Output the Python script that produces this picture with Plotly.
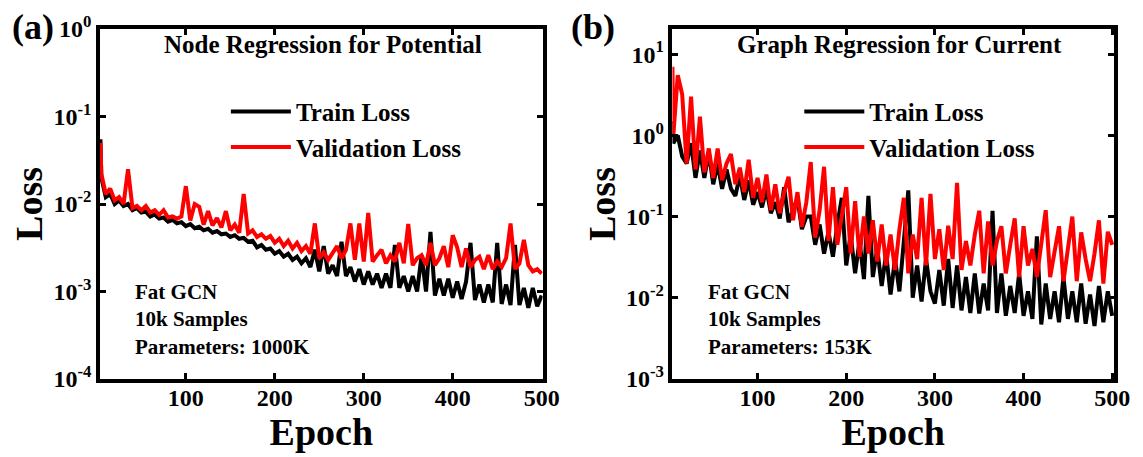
import plotly.graph_objects as go

# ---------------- data ----------------
EPOCHS = [4] + list(range(5, 501, 5))

# (a) Node Regression for Potential
A_TRAIN = [0.055, 0.020, 0.012, 0.013, 0.010, 0.011, 0.0095, 0.010, 0.0085, 0.009,
           0.008, 0.0082, 0.0072, 0.0076, 0.0068, 0.0070, 0.0063, 0.0066, 0.0060, 0.0062,
           0.0056, 0.0059, 0.0053, 0.0055, 0.0050, 0.0052, 0.0047, 0.0049, 0.0045, 0.0046,
           0.0042, 0.0044, 0.0040, 0.0041, 0.0037, 0.0038, 0.0032, 0.0034, 0.0030, 0.0031,
           0.0027, 0.0029, 0.0025, 0.0027, 0.0023, 0.0025, 0.0021, 0.0024, 0.0019, 0.0030,
           0.0017, 0.0033, 0.0016, 0.0020, 0.0015, 0.0037, 0.0015, 0.0019, 0.0013, 0.0018,
           0.0012, 0.0017, 0.0012, 0.0016, 0.0011, 0.0016, 0.0011, 0.0034, 0.0011, 0.0015,
           0.0010, 0.0015, 0.0010, 0.0026, 0.0010, 0.0048, 0.0009, 0.0014, 0.0009, 0.0014,
           0.00085, 0.0013, 0.00082, 0.0013, 0.0036, 0.0008, 0.0012, 0.00075, 0.0012, 0.00075,
           0.0036, 0.00072, 0.0012, 0.0007, 0.0034, 0.0007, 0.0011, 0.00065, 0.0011, 0.00068,
           0.0009]
A_VAL = [0.050, 0.022, 0.013, 0.015, 0.011, 0.012, 0.010, 0.025, 0.009, 0.0095,
         0.0085, 0.0095, 0.008, 0.0085, 0.0075, 0.0085, 0.007, 0.0072, 0.0068, 0.0072,
         0.016, 0.0065, 0.010, 0.0093, 0.0058, 0.0083, 0.0057, 0.0069, 0.0054, 0.0083,
         0.0050, 0.0058, 0.0047, 0.013, 0.0046, 0.0050, 0.0042, 0.0045, 0.0040, 0.0043,
         0.0036, 0.0040, 0.0033, 0.0038, 0.0031, 0.0036, 0.0029, 0.0033, 0.0027, 0.0060,
         0.0024, 0.0028, 0.0023, 0.0028, 0.0033, 0.0024, 0.0030, 0.0060, 0.0023, 0.0060,
         0.0022, 0.0079, 0.0022, 0.0026, 0.0030, 0.0021, 0.0026, 0.0022, 0.0036, 0.0021,
         0.0059, 0.0020, 0.0024, 0.0026, 0.0020, 0.0036, 0.0020, 0.0024, 0.0033, 0.0019,
         0.0044, 0.0032, 0.0019, 0.0031, 0.0019, 0.0023, 0.0025, 0.0018, 0.0026, 0.0018,
         0.0022, 0.0019, 0.0024, 0.0060, 0.0018, 0.0021, 0.0039, 0.0020, 0.0017, 0.0018,
         0.0016]

# (b) Graph Regression for Current
B_TRAIN = [1.5, 0.8, 1.0, 0.55, 0.45, 0.8, 0.30, 0.65, 0.30, 0.62,
           0.25, 0.45, 0.22, 0.38, 0.22, 0.18, 0.32, 0.16, 0.28, 0.14,
           0.20, 0.13, 0.22, 0.11, 0.15, 0.095, 0.23, 0.085, 0.12, 0.17,
           0.07, 0.10, 0.10, 0.045, 0.08, 0.035, 0.065, 0.032, 0.08, 0.17,
           0.025, 0.06, 0.02, 0.05, 0.017, 0.18, 0.018, 0.04, 0.014, 0.035,
           0.011, 0.03, 0.012, 0.05, 0.21, 0.010, 0.025, 0.009, 0.03, 0.012,
           0.0085, 0.022, 0.008, 0.03, 0.0075, 0.025, 0.007, 0.018, 0.0065, 0.02,
           0.0064, 0.015, 0.007, 0.118, 0.0065, 0.02, 0.006, 0.014, 0.0065, 0.02,
           0.006, 0.012, 0.0055, 0.057, 0.0047, 0.015, 0.0055, 0.012, 0.005, 0.018,
           0.0055, 0.012, 0.005, 0.015, 0.0048, 0.011, 0.0045, 0.014, 0.005, 0.012,
           0.006]
B_VAL = [7.0, 1.0, 5.5, 3.2, 0.45, 3.0, 0.38, 1.7, 0.35, 0.69,
         0.30, 0.69, 0.28, 0.45, 0.59, 0.25, 0.40, 0.20, 0.50, 0.17,
         0.30, 0.15, 0.33, 0.12, 0.25, 0.11, 0.20, 0.31, 0.09, 0.20,
         0.075, 0.15, 0.47, 0.055, 0.12, 0.41, 0.05, 0.23, 0.045, 0.10,
         0.23, 0.035, 0.155, 0.032, 0.10, 0.035, 0.09, 0.028, 0.08, 0.025,
         0.06, 0.022, 0.07, 0.17, 0.02, 0.06, 0.03, 0.17, 0.025, 0.19,
         0.03, 0.07, 0.022, 0.077, 0.03, 0.26, 0.022, 0.05, 0.025, 0.06,
         0.118, 0.02, 0.087, 0.025, 0.05, 0.076, 0.02, 0.045, 0.095, 0.018,
         0.076, 0.025, 0.04, 0.018, 0.05, 0.12, 0.018, 0.04, 0.076, 0.016,
         0.04, 0.10, 0.016, 0.064, 0.03, 0.016, 0.035, 0.09, 0.015, 0.065,
         0.045]

X_TICKS = [100, 200, 300, 400, 500]
A_YTICKS = [1e-4, 1e-3, 1e-2, 1e-1, 1]
A_YTEXT = ["10<sup>-4</sup>", "10<sup>-3</sup>", "10<sup>-2</sup>", "10<sup>-1</sup>", "10<sup>0</sup>"]
B_YTICKS = [1e-3, 1e-2, 1e-1, 1, 10]
B_YTEXT = ["10<sup>-3</sup>", "10<sup>-2</sup>", "10<sup>-1</sup>", "10<sup>0</sup>", "10<sup>1</sup>"]

FONT = "Liberation Serif"
W, H = 1143, 457
ML, MR, MT, MB = 100, 28, 22, 78
PW = W - ML - MR
PH = H - MT - MB


def px(x):
    return (x - ML) / PW


def py(y):
    return (H - MB - y) / PH


fig = go.Figure()

for xa, ya, tr, va, lg in [("x", "y", A_TRAIN, A_VAL, "legend"),
                           ("x2", "y2", B_TRAIN, B_VAL, "legend2")]:
    fig.add_trace(go.Scatter(x=EPOCHS, y=tr, mode="lines", name="Train Loss",
                             line=dict(color="black", width=4),
                             xaxis=xa, yaxis=ya, legend=lg))
    fig.add_trace(go.Scatter(x=EPOCHS, y=va, mode="lines", name="Validation Loss",
                             line=dict(color="#ff0000", width=4),
                             xaxis=xa, yaxis=ya, legend=lg))

axis_common = dict(showline=True, linecolor="black", linewidth=3.5, mirror="ticks",
                   ticks="inside", ticklen=6, tickwidth=2.5, tickcolor="black",
                   showgrid=False, zeroline=False,
                   tickfont=dict(family=FONT, size=24, color="black", weight="bold"))

xtitle = dict(text="Epoch", font=dict(family=FONT, size=38, color="black", weight="bold"),
              standoff=0)
ytitle = dict(text="Loss", font=dict(family=FONT, size=38, color="black", weight="bold"),
              standoff=0)

left_dom = [0, px(543)]
right_dom = [px(673), 1]

fig.update_layout(
    width=W, height=H,
    margin=dict(l=ML, r=MR, t=MT, b=MB),
    paper_bgcolor="white", plot_bgcolor="white",
    font=dict(family=FONT, color="black", weight="bold"),
    xaxis=dict(domain=left_dom, range=[3.5, 501], tickvals=X_TICKS, anchor="y",
               title=xtitle, ticklabelstandoff=-6, **axis_common),
    yaxis=dict(domain=[0, 1], type="log", range=[-4, 0], tickvals=A_YTICKS,
               ticktext=A_YTEXT, anchor="x", title=ytitle, **axis_common),
    xaxis2=dict(domain=right_dom, range=[4, 502], tickvals=X_TICKS, anchor="y2",
                title=xtitle, ticklabelstandoff=-6, **axis_common),
    yaxis2=dict(domain=[0, 1], type="log", range=[-3, 1.31], tickvals=B_YTICKS,
                ticktext=B_YTEXT, anchor="x2", title=ytitle, **axis_common),
    legend=dict(x=px(226), y=py(83), xanchor="left", yanchor="top", itemwidth=60,
                bgcolor="rgba(0,0,0,0)", tracegroupgap=0,
                font=dict(family=FONT, size=25, color="black", weight="bold")),
    legend2=dict(x=px(800), y=py(83), xanchor="left", yanchor="top", itemwidth=60,
                 bgcolor="rgba(0,0,0,0)", tracegroupgap=0,
                 font=dict(family=FONT, size=25, color="black", weight="bold")),
    showlegend=True,
)

ann_font = dict(family=FONT, size=25, color="black", weight="bold")
info_font = dict(family=FONT, size=21, color="black", weight="bold")
label_font = dict(family=FONT, size=36, color="black", weight="bold")

fig.add_annotation(x=px(323), y=py(38), xref="paper", yref="paper", showarrow=False,
                   text="Node Regression for Potential", font=ann_font,
                   xanchor="center", yanchor="middle")
fig.add_annotation(x=px(900), y=py(38), xref="paper", yref="paper", showarrow=False,
                   text="Graph Regression for Current", font=ann_font,
                   xanchor="center", yanchor="middle")
fig.add_annotation(x=px(133), y=py(318), xref="paper", yref="paper", showarrow=False,
                   text="Fat GCN<br>10k Samples<br>Parameters: 1000K", font=info_font,
                   xanchor="left", yanchor="middle", align="left")
fig.add_annotation(x=px(707), y=py(318), xref="paper", yref="paper", showarrow=False,
                   text="Fat GCN<br>10k Samples<br>Parameters: 153K", font=info_font,
                   xanchor="left", yanchor="middle", align="left")
fig.add_annotation(x=px(33), y=py(20), xref="paper", yref="paper", showarrow=False,
                   text="(a)", font=label_font, xanchor="center", yanchor="middle")
fig.add_annotation(x=px(593), y=py(20), xref="paper", yref="paper", showarrow=False,
                   text="(b)", font=label_font, xanchor="center", yanchor="middle")

fig.write_html("out.html", config={"displayModeBar": False},
               post_script="document.body.style.margin='0';document.body.style.padding='0';")
